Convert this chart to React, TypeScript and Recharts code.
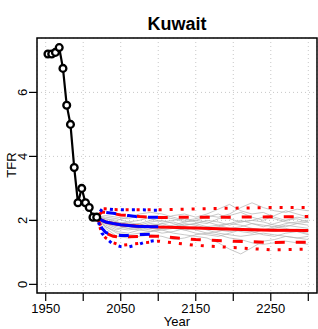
import { CartesianGrid, ComposedChart, Label, Line, ReferenceArea, XAxis, YAxis } from 'recharts';

// observed TFR (mid-period years)
const obsYears = [1953, 1958, 1963, 1968, 1973, 1978, 1983, 1988, 1993, 1998, 2003, 2008, 2013, 2018];
const obsTfr = [7.2, 7.2, 7.25, 7.4, 6.75, 5.6, 5.0, 3.65, 2.55, 3.0, 2.55, 2.4, 2.1, 2.1];

// blue projection (to 2100)
const blueYears = [2018, 2025, 2030, 2040, 2050, 2060, 2070, 2080, 2090, 2100];
const blueMedian = [2.12, 2.0, 1.95, 1.9, 1.86, 1.84, 1.82, 1.81, 1.8, 1.8];
const blueUp80 = [2.12, 2.25, 2.25, 2.22, 2.18, 2.15, 2.12, 2.1, 2.1, 2.1];
const blueLo80 = [2.12, 1.75, 1.62, 1.55, 1.53, 1.53, 1.55, 1.56, 1.57, 1.58];
const blueUp95 = [2.12, 2.35, 2.36, 2.34, 2.33, 2.33, 2.33, 2.33, 2.32, 2.32];
const blueLo95 = [2.12, 1.6, 1.45, 1.25, 1.18, 1.17, 1.22, 1.3, 1.35, 1.38];

// red projection (to 2300)
const redYears = [2018, 2025, 2030, 2040, 2050, 2075, 2100, 2150, 2200, 2250, 2300];
const redMedian = [2.12, 2.0, 1.95, 1.9, 1.86, 1.82, 1.79, 1.76, 1.72, 1.69, 1.68];
const redUp80 = [2.12, 2.26, 2.25, 2.21, 2.17, 2.12, 2.09, 2.1, 2.1, 2.11, 2.12];
const redLo80 = [2.12, 1.74, 1.6, 1.5, 1.48, 1.5, 1.5, 1.4, 1.35, 1.31, 1.32];
const redUp95 = [2.12, 2.36, 2.36, 2.34, 2.33, 2.33, 2.33, 2.36, 2.38, 2.4, 2.4];
const redLo95 = [2.12, 1.58, 1.45, 1.3, 1.22, 1.28, 1.35, 1.22, 1.15, 1.08, 1.1];

// a few simulated trajectories (gray)
const trajYears = [2018, 2030, 2045, 2060, 2075, 2090, 2105, 2120, 2135, 2150, 2165, 2180, 2195, 2210, 2225, 2240, 2255, 2270, 2285, 2300];
const trajectories = [
  [2.1, 1.95, 1.85, 1.8, 1.75, 1.85, 1.9, 1.8, 1.7, 1.75, 1.8, 1.7, 1.65, 1.7, 1.75, 1.7, 1.65, 1.7, 1.72, 1.7],
  [2.1, 2.1, 2.05, 1.95, 2.0, 2.1, 2.05, 2.15, 2.2, 2.1, 2.2, 2.35, 2.5, 2.3, 2.2, 2.25, 2.1, 2.0, 2.05, 1.95],
  [2.1, 1.8, 1.6, 1.55, 1.6, 1.65, 1.7, 1.6, 1.55, 1.5, 1.45, 1.3, 1.1, 0.95, 1.15, 1.35, 1.4, 1.5, 1.45, 1.4],
  [2.1, 2.0, 1.9, 1.95, 1.85, 1.8, 1.9, 1.95, 1.85, 1.9, 2.0, 1.95, 1.85, 1.95, 2.0, 2.1, 2.05, 1.95, 1.9, 1.85],
  [2.1, 1.9, 1.75, 1.7, 1.75, 1.7, 1.6, 1.65, 1.75, 1.8, 1.7, 1.6, 1.55, 1.5, 1.55, 1.6, 1.55, 1.5, 1.45, 1.5],
  [2.1, 2.15, 2.1, 2.05, 2.15, 2.05, 1.95, 2.0, 2.05, 1.95, 1.9, 2.05, 2.15, 2.25, 2.1, 2.0, 2.15, 2.3, 2.2, 2.1],
  [2.1, 1.85, 1.7, 1.85, 1.9, 1.75, 1.7, 1.75, 1.85, 1.9, 1.8, 1.85, 1.75, 1.65, 1.6, 1.7, 1.8, 1.75, 1.65, 1.6],
  [2.1, 1.95, 1.95, 1.9, 1.85, 1.95, 2.0, 1.9, 1.8, 1.7, 1.6, 1.65, 1.75, 1.8, 1.9, 1.85, 1.8, 1.9, 1.95, 2.0],
  [2.1, 1.75, 1.5, 1.45, 1.5, 1.55, 1.5, 1.4, 1.45, 1.55, 1.6, 1.55, 1.45, 1.4, 1.3, 1.25, 1.3, 1.35, 1.3, 1.25],
  [2.1, 2.05, 2.0, 2.1, 2.2, 2.25, 2.2, 2.1, 2.0, 2.05, 2.15, 2.1, 2.2, 2.4, 2.55, 2.4, 2.3, 2.25, 2.35, 2.3],
  [2.1, 1.9, 1.8, 1.75, 1.8, 1.9, 1.85, 1.75, 1.7, 1.6, 1.55, 1.5, 1.6, 1.7, 1.65, 1.55, 1.5, 1.6, 1.65, 1.55],
  [2.1, 2.0, 1.85, 1.75, 1.7, 1.65, 1.75, 1.85, 1.95, 2.0, 1.95, 1.85, 1.9, 2.0, 1.9, 1.8, 1.9, 2.0, 2.1, 2.05],
  [2.1, 1.8, 1.65, 1.6, 1.7, 1.8, 1.75, 1.8, 1.9, 1.85, 1.75, 1.8, 1.9, 1.85, 1.75, 1.7, 1.75, 1.85, 1.8, 1.75],
  [2.1, 2.05, 1.95, 1.85, 1.9, 2.0, 2.1, 2.05, 1.95, 2.0, 2.1, 2.2, 2.05, 1.95, 2.0, 1.95, 1.85, 1.8, 1.9, 1.95],
];

const xTicks = [1950, 2000, 2050, 2100, 2150, 2200, 2250, 2300];
const xLabels = ['1950', '', '2050', '', '2150', '', '2250', ''];
const yTicks = [0, 2, 4, 6];

const xMin = 1938.4;
const xMax = 2311.6;
const yMin = -0.27;
const yMax = 7.7;

const font = '"Liberation Sans", Arial, sans-serif';

const pts = (years: number[], vals: number[]) => years.map((x, i) => ({ x, v: vals[i] }));

const DASH = '10 11';
const DOT = '3 8';

const YTick = (props: any) => {
  const { y, payload } = props;
  const x = 27;
  return (
    <text x={x} y={y} transform={`rotate(-90 ${x} ${y})`} textAnchor='middle' fontSize={13} fontFamily={font} fill='#000'>
      {payload.value}
    </text>
  );
};

const XTick = (props: any) => {
  const { x, y, index } = props;
  return (
    <text x={x} y={y + 10} textAnchor='middle' fontSize={13} fontFamily={font} fill='#000'>
      {xLabels[index] ?? ''}
    </text>
  );
};

export default function App() {
  const lineProps = { dot: false, activeDot: false, isAnimationActive: false, dataKey: 'v', type: 'linear' as const };
  return (
    <div style={{ position: 'absolute', left: 0, top: 0, width: 318, height: 329, background: '#fff' }}>
      <div
        style={{
          position: 'absolute',
          left: 37,
          width: 280,
          top: 14,
          textAlign: 'center',
          fontFamily: font,
          fontWeight: 'bold',
          fontSize: 18,
          lineHeight: '20px',
        }}
      >
        Kuwait
      </div>
      <ComposedChart width={318} height={329} margin={{ top: 38, right: 1, left: 0, bottom: 0 }}>
        <CartesianGrid stroke='#c8c8c8' strokeDasharray='1 3' />
        <XAxis
          type='number'
          dataKey='x'
          domain={[xMin, xMax]}
          ticks={xTicks}
          allowDataOverflow
          height={36}
          tickSize={8}
          axisLine={false}
          tickLine={{ stroke: '#000', strokeWidth: 1.2 }}
          tick={<XTick />}
          interval={0}
        >
          <Label
            content={() => (
              <text x={177} y={326} textAnchor='middle' fontSize={13} fontFamily={font} fill='#000'>
                Year
              </text>
            )}
          />
        </XAxis>
        <YAxis
          type='number'
          domain={[yMin, yMax]}
          ticks={yTicks}
          allowDataOverflow
          width={37}
          tickSize={8}
          axisLine={false}
          tickLine={{ stroke: '#000', strokeWidth: 1.2 }}
          tick={<YTick />}
          interval={0}
        >
          <Label
            content={() => (
              <text x={16} y={165} transform='rotate(-90 16 165)' textAnchor='middle' fontSize={13} fontFamily={font} fill='#000'>
                TFR
              </text>
            )}
          />
        </YAxis>

        {trajectories.map((t, i) => (
          <Line key={`t${i}`} {...lineProps} data={pts(trajYears, t)} stroke='#b4b4b4' strokeWidth={0.9} strokeOpacity={0.8} />
        ))}

        <Line {...lineProps} data={pts(redYears, redUp95)} stroke='#ff0000' strokeWidth={3} strokeDasharray={DOT} />
        <Line {...lineProps} data={pts(redYears, redLo95)} stroke='#ff0000' strokeWidth={3} strokeDasharray={DOT} />
        <Line {...lineProps} data={pts(redYears, redUp80)} stroke='#ff0000' strokeWidth={3} strokeDasharray={DASH} />
        <Line {...lineProps} data={pts(redYears, redLo80)} stroke='#ff0000' strokeWidth={3} strokeDasharray={DASH} />
        <Line {...lineProps} data={pts(redYears, redMedian)} stroke='#ff0000' strokeWidth={3} />

        <Line {...lineProps} data={pts(blueYears, blueUp95)} stroke='#0000ff' strokeWidth={3} strokeDasharray={DOT} strokeDashoffset={5} />
        <Line {...lineProps} data={pts(blueYears, blueLo95)} stroke='#0000ff' strokeWidth={3} strokeDasharray={DOT} strokeDashoffset={5} />
        <Line {...lineProps} data={pts(blueYears, blueUp80)} stroke='#0000ff' strokeWidth={3} strokeDasharray={DASH} strokeDashoffset={10} />
        <Line {...lineProps} data={pts(blueYears, blueLo80)} stroke='#0000ff' strokeWidth={3} strokeDasharray={DASH} strokeDashoffset={10} />
        <Line {...lineProps} data={pts(blueYears, blueMedian)} stroke='#0000ff' strokeWidth={3} />

        <Line
          {...lineProps}
          data={pts(obsYears, obsTfr)}
          stroke='#000'
          strokeWidth={2.2}
          dot={(p: any) => (
            <circle key={`o${p.index}`} cx={p.cx} cy={p.cy} r={3.4} fill='#fff' stroke='#000' strokeWidth={2.3} />
          )}
        />

        <ReferenceArea x1={xMin} x2={xMax} y1={yMin} y2={yMax} fill='none' stroke='#000' strokeWidth={1.5} />
      </ComposedChart>
    </div>
  );
}
